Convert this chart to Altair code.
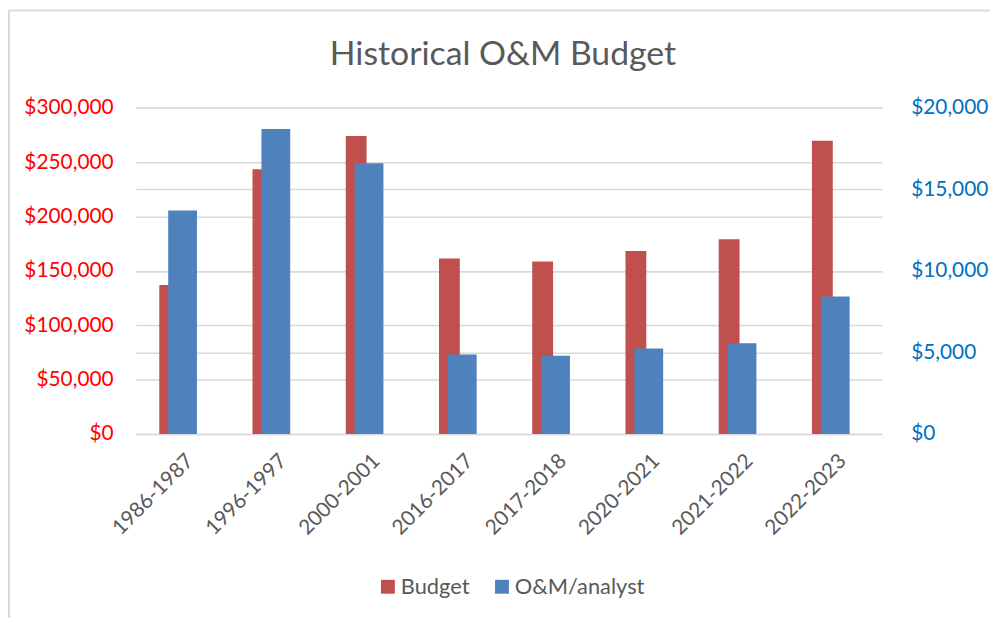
import altair as alt
import pandas as pd

chart_title = "Historical O&M Budget"
periods = ["1986-1987", "1996-1997", "2000-2001", "2016-2017",
           "2017-2018", "2020-2021", "2021-2022", "2022-2023"]
budget = [137000, 243500, 274000, 161300, 158500, 168300, 179000, 269600]
om_analyst = [13700, 18700, 16600, 4870, 4790, 5240, 5560, 8420]
series_names = ["Budget", "O&M/analyst"]
series_colors = ["#C0504D", "#4F81BD"]

left_ticks = [0, 50000, 100000, 150000, 200000, 250000, 300000]
right_ticks = [0, 5000, 10000, 15000, 20000]

df = pd.DataFrame({
    "period": periods * 2,
    "series": [series_names[0]] * len(periods) + [series_names[1]] * len(periods),
    "value": budget + om_analyst,
})

FONT = "Lato"
GRAY = "#595959"

x_enc = alt.X("period:N", sort=periods, title=None,
              scale=alt.Scale(paddingInner=0, paddingOuter=0),
              axis=alt.Axis(labelAngle=-45, labelFontSize=21, labelColor=GRAY,
                            labelFont=FONT, labelPadding=16, ticks=False,
                            domain=False, grid=False))

color_enc = alt.Color("series:N", title=None,
                      scale=alt.Scale(domain=series_names, range=series_colors),
                      legend=alt.Legend(orient="none", direction="horizontal",
                                        legendX=243, legendY=472,
                                        symbolType="square", symbolSize=196,
                                        symbolStrokeWidth=0, labelFontSize=22,
                                        labelColor=GRAY, labelFont=FONT,
                                        labelOffset=2, columnPadding=21))

red = alt.Chart(df).transform_filter(alt.datum.series == "Budget").mark_bar(
    size=21, xOffset=-13
).encode(
    x=x_enc,
    y=alt.Y("value:Q", title=None,
            scale=alt.Scale(domain=[0, 300000], nice=False),
            axis=alt.Axis(values=left_ticks, format="$,.0f", labelColor="#FF0000",
                          labelFontSize=21, labelFont=FONT, labelPadding=23,
                          ticks=False, domain=False, grid=True,
                          gridColor="#D9D9D9", gridWidth=1.5)),
    color=color_enc,
)

blue = alt.Chart(df).transform_filter(alt.datum.series == "O&M/analyst").mark_bar(
    size=29
).encode(
    x=x_enc,
    y=alt.Y("value:Q", title=None,
            scale=alt.Scale(domain=[0, 20000], nice=False),
            axis=alt.Axis(orient="right", values=right_ticks, format="$,.0f",
                          labelColor="#0070C0", labelFontSize=21, labelFont=FONT,
                          labelPadding=29, ticks=False, domain=False, grid=True,
                          gridColor="#D9D9D9", gridWidth=1.5)),
    color=color_enc,
)

one_row = pd.DataFrame({"k": [0]})
frame_left = alt.Chart(one_row).mark_rule(color="#D9D9D9", strokeWidth=2).encode(
    x=alt.value(-128), y=alt.value(-98), y2=alt.value(520)
)
frame_top = alt.Chart(one_row).mark_rule(color="#D9D9D9", strokeWidth=2).encode(
    x=alt.value(-128), x2=alt.value(870), y=alt.value(-98)
)
title_text = alt.Chart(one_row).mark_text(
    text=chart_title, font=FONT, fontSize=34, color=GRAY,
    align="center", baseline="alphabetic"
).encode(x=alt.value(370), y=alt.value(-43))

chart = alt.layer(red, blue, frame_left, frame_top, title_text).resolve_scale(
    y="independent"
).properties(
    width=752, height=329,
    autosize=alt.AutoSizeParams(type="none"),
    padding={"left": 129, "top": 98, "right": 109, "bottom": 183},
).configure_view(stroke=None)

chart.save("out.html", embed_options={"renderer": "svg", "actions": False})
